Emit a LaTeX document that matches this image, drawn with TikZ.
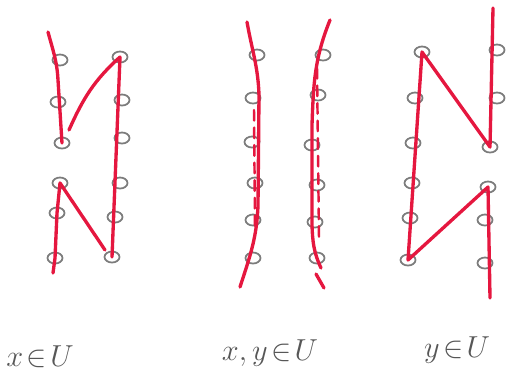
\documentclass[tikz,border=0pt]{standalone}
\usepackage{amsmath}
\usepackage{amssymb}
\usepackage{xcolor}
\usepackage{tikz}
\usetikzlibrary{shapes.geometric}
\definecolor{pencil}{HTML}{7C7C7C}
\definecolor{marker}{HTML}{E5173F}

\begin{document}
\begin{tikzpicture}[
  x=0.02cm, y=-0.02cm,
  dot/.style    ={ellipse, draw=pencil, line width=1pt,
                  minimum width=0.3cm, minimum height=0.22cm, inner sep=0pt},
  redline/.style={draw=marker, line width=1.9pt, line cap=round, line join=round},
  hint/.style   ={draw=marker, line width=1.4pt, line cap=round,
                  dash pattern=on 6pt off 4pt},
  caption/.style={text=pencil!70!black, font=\LARGE}
]
  \useasboundingbox (0,0) rectangle (509,387);

  % x in U
  \foreach \i/\px/\py in {1/60/60, 2/58/102, 3/62/143, 4/60/183, 5/57/213, 6/55/258}
    \node[dot] (xl\i) at (\px,\py) {};
  \foreach \i/\px/\py in {1/120/57, 2/122/100, 3/122/138, 4/120/183, 5/115/217, 6/112/257}
    \node[dot] (xr\i) at (\px,\py) {};
  \coordinate (xtop) at (48,32);
  \coordinate (xmid) at (69,130);
  \coordinate (xbot) at (53,273);
  \coordinate (xend) at (105,250);
  \draw[redline] (xtop) to[out=-75,in=93] (58,80) -- (xl3.center);
  \draw[redline] (xmid) to[out=66,in=222] (xr1.center);
  \draw[redline] (xr1.center) -- (xr6.center);
  \draw[redline] (xl4.center) -- (xend);
  \draw[redline] (xl4.center) -- (xl5.center) -- (xl6.center) -- (xbot);

  % x,y in U
  \foreach \i/\px/\py in {1/257/55, 2/253/98, 3/252/142, 4/255/183, 5/253/220, 6/253/258}
    \node[dot] (bl\i) at (\px,\py) {};
  \foreach \i/\px/\py in {1/323/55, 2/318/95, 3/312/145, 4/317/185, 5/315/222, 6/317/258}
    \node[dot] (br\i) at (\px,\py) {};
  \coordinate (bltop) at (247,22);
  \coordinate (blbot) at (240,287);
  \coordinate (brtop) at (330,20);
  \coordinate (brbot) at (321,268);
  \coordinate (brtailA) at (316,274);
  \coordinate (brtailB) at (324,288);
  \draw[redline] (bltop) to[out=-80,in=92] (259,95) -- (258,205)
                 to[out=-92,in=72] (blbot);
  \draw[redline] (brtop) to[out=-112,in=88] (312,125) -- (312,225)
                 to[out=-88,in=115] (brbot);
  \draw[redline] (brtailA) -- (brtailB);
  \draw[hint] (254,110) -- (255,228);
  \draw[hint] (317,68) -- (319,238);

  % y in U
  \foreach \i/\px/\py in {1/422/52, 2/415/98, 3/413/143, 4/412/183, 5/410/218, 6/408/260}
    \node[dot] (yl\i) at (\px,\py) {};
  \foreach \i/\px/\py in {1/497/50, 2/497/98, 3/490/147, 4/488/187, 5/485/220, 6/485/263}
    \node[dot] (yr\i) at (\px,\py) {};
  \coordinate (ytop) at (493,8);
  \coordinate (ybot) at (490,298);
  \draw[redline] (ytop) -- (yr3.center) -- (yl1.center) -- (yl6.center)
                 -- (yr4.center) -- (ybot);

  % captions
  \node[caption] (capx)  at (40,357)  {$x\!\in\!U$};
  \node[caption] (capxy) at (270,353) {$x,y\!\in\!U$};
  \node[caption] (capy)  at (457,350) {$y\!\in\!U$};
\end{tikzpicture}
\end{document}
